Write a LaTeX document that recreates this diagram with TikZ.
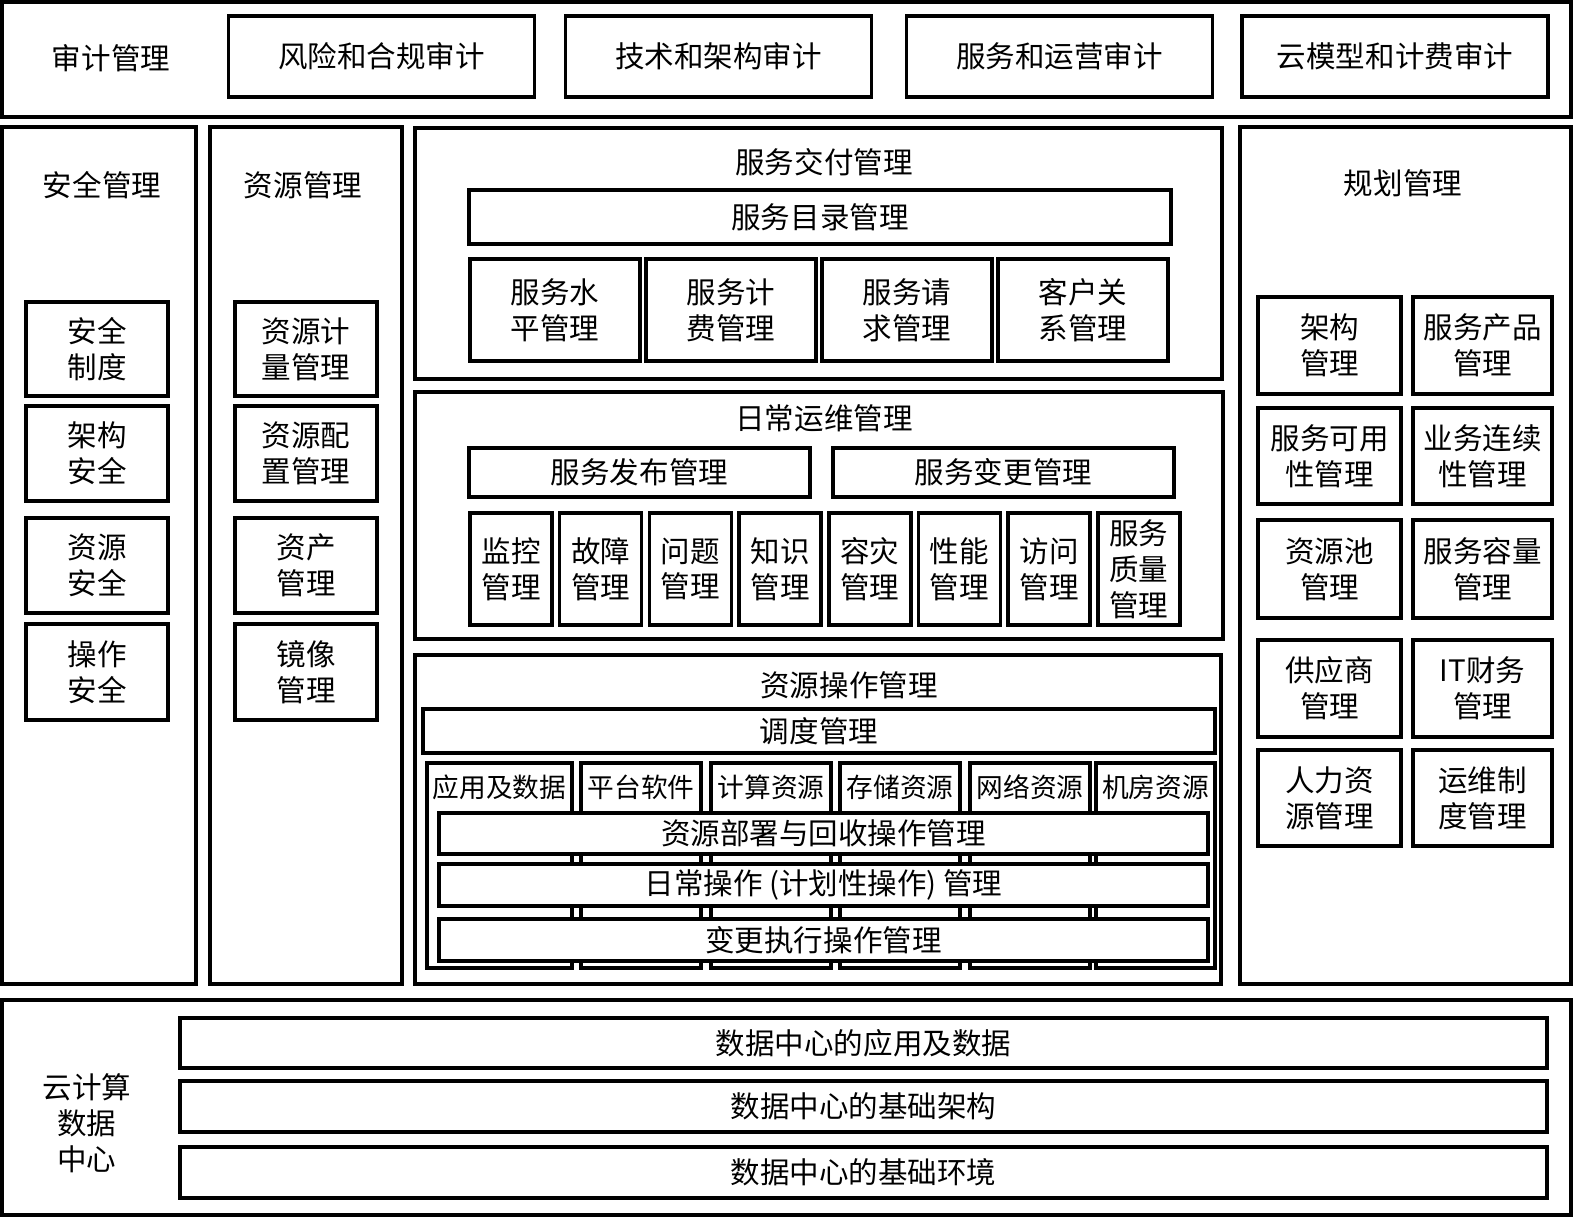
\documentclass[tikz,border=0pt]{standalone}
\usepackage{fontspec}
\newfontfamily\cjk{Noto Sans CJK SC}
\tikzset{
  frame/.style={draw, line width=1pt, inner sep=0pt},
  box/.style={draw, line width=1pt, inner sep=0pt, fill=white},
  every node/.style={align=center},
}
\begin{document}
\begin{tikzpicture}[font=\cjk\fontsize{8.4}{10.2}\selectfont]
    \useasboundingbox (0,0) rectangle (15.74,-12.17);
    % 审计管理
    \node[frame, minimum width=15.69cm, minimum height=1.15cm] (au) at (7.865,-0.595) {};
    \node (aul) at (1.11,-0.58) {审计管理};
    \foreach \x/\t [count=\i] in {3.815/风险和合规审计, 7.185/技术和架构审计, 10.595/服务和运营审计, 13.95/云模型和计费审计}
        \node[box, minimum width=3.06cm, minimum height=0.81cm] (a\i) at (\x,-0.565) {\t};
    % 安全管理 / 资源管理
    \node[frame, minimum width=1.94cm, minimum height=8.57cm] (sec) at (0.99,-5.555) {};
    \node (secl) at (1.02,-1.85) {安全管理};
    \node[frame, minimum width=1.92cm, minimum height=8.57cm] (res) at (3.06,-5.555) {};
    \node (resl) at (3.03,-1.85) {资源管理};
    \foreach \y/\h/\s/\r [count=\i] in {3.49/0.94/安全\\制度/资源计\\量管理, 4.535/0.95/架构\\安全/资源配\\置管理,
                                     5.655/0.95/资源\\安全/资产\\管理, 6.72/0.96/操作\\安全/镜像\\管理} {
        \node[box, minimum width=1.42cm, minimum height=\h cm] (s\i) at (0.97,-\y) {\s};
        \node[box, minimum width=1.42cm, minimum height=\h cm] (r\i) at (3.06,-\y) {\r};
    }
    % 服务交付管理
    \node[frame, minimum width=8.07cm, minimum height=2.51cm] (dl) at (8.185,-2.535) {};
    \node (dll) at (8.24,-1.62) {服务交付管理};
    \node[box, minimum width=7.02cm, minimum height=0.54cm] (cat) at (8.2,-2.17) {服务目录管理};
    \foreach \x/\t [count=\i] in {5.55/服务水\\平管理, 7.31/服务计\\费管理, 9.07/服务请\\求管理, 10.83/客户关\\系管理}
        \node[box, minimum width=1.70cm, minimum height=1.02cm] (d\i) at (\x,-3.10) {\t};
    % 日常运维管理
    \node[frame, minimum width=8.08cm, minimum height=2.47cm] (op) at (8.19,-5.155) {};
    \node (opl) at (8.24,-4.18) {日常运维管理};
    \node[box, minimum width=3.41cm, minimum height=0.49cm] (rel) at (6.395,-4.725) {服务发布管理};
    \node[box, minimum width=3.41cm, minimum height=0.49cm] (chg) at (10.035,-4.725) {服务变更管理};
    \foreach \t [count=\i] in {监控\\管理, 故障\\管理, 问题\\管理, 知识\\管理, 容灾\\管理, 性能\\管理, 访问\\管理, 服务\\质量\\管理}
        \node[box, minimum width=0.82cm, minimum height=1.12cm] (o\i) at ({5.11+(\i-1)*0.897},-5.69) {\t};
    % 资源操作管理
    \node[frame, minimum width=8.06cm, minimum height=3.29cm] (ro) at (8.18,-8.195) {};
    \node (rol) at (8.49,-6.85) {资源操作管理};
    \node[box, minimum width=7.92cm, minimum height=0.44cm] (sch) at (8.19,-7.31) {调度管理};
    \foreach \x/\w/\t [count=\i] in {4.995/1.45/应用及数据, 6.41/1.20/平台软件, 7.71/1.20/计算资源,
                                   9.00/1.20/存储资源, 10.30/1.20/网络资源, 11.555/1.19/机房资源} {
        \node[box, minimum width=\w cm, minimum height=2.05cm] (c\i) at (\x,-8.655) {};
        \node[font=\cjk\fontsize{7.6}{9}\selectfont] (cl\i) at (\x,-7.87) {\t};
    }
    \node[box, minimum width=7.69cm, minimum height=0.41cm] (b1) at (8.235,-8.335) {资源部署与回收操作管理};
    \node[box, minimum width=7.69cm, minimum height=0.42cm] (b2) at (8.235,-8.85) {日常操作 (计划性操作) 管理};
    \node[box, minimum width=7.69cm, minimum height=0.42cm] (b3) at (8.235,-9.40) {变更执行操作管理};
    % 规划管理
    \node[frame, minimum width=3.31cm, minimum height=8.57cm] (pl) at (14.055,-5.555) {};
    \node (pll) at (14.03,-1.83) {规划管理};
    \foreach \y/\h/\l/\r [count=\i] in {3.455/0.97/架构\\管理/服务产品\\管理, 4.56/0.96/服务可用\\性管理/业务连续\\性管理,
                                     5.69/0.98/资源池\\管理/服务容量\\管理, 6.885/0.97/供应商\\管理/IT财务\\管理,
                                     7.98/0.96/人力资\\源管理/运维制\\度管理} {
        \node[box, minimum width=1.43cm, minimum height=\h cm] (gl\i) at (13.295,-\y) {\l};
        \node[box, minimum width=1.39cm, minimum height=\h cm] (gr\i) at (14.825,-\y) {\r};
    }
    % 云计算数据中心
    \node[frame, minimum width=15.69cm, minimum height=2.15cm] (dc) at (7.865,-11.075) {};
    \node (dcl) at (0.87,-11.23) {云计算\\数据\\中心};
    \foreach \y/\h/\t [count=\i] in {10.43/0.50/数据中心的应用及数据, 11.065/0.51/数据中心的基础架构, 11.725/0.51/数据中心的基础环境}
        \node[box, minimum width=13.67cm, minimum height=\h cm] (e\i) at (8.635,-\y) {\t};
\end{tikzpicture}
\end{document}
